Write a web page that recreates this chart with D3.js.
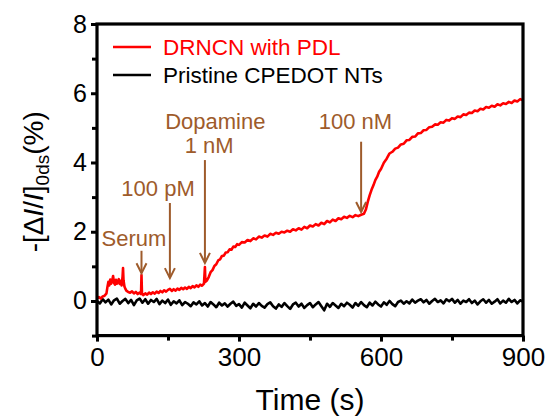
<!DOCTYPE html>
<html>
<head>
<meta charset="utf-8">
<script src="https://cdn.jsdelivr.net/npm/d3@7"></script>
<style>
  html, body { margin: 0; padding: 0; background: #fff; }
  svg { display: block; font-family: "Liberation Sans", Arial, sans-serif; }
</style>
</head>
<body>
<svg id="chart" width="549" height="416"></svg>
<script>
// ---------------- data ----------------
const xTicks = [0, 300, 600, 900];
const xMinorTicks = [150, 450, 750];
const yTicks = [0, 2, 4, 6, 8];
const yMinorTicks = [-1, 1, 3, 5, 7];

const seriesNames = ["DRNCN with PDL", "Pristine CPEDOT NTs"];

// DRNCN with PDL (red) : time (s) and response (%)
const redTime = [0,4,8,12,16,20,22,24,26,28,30,32,34,36,38,40,42,44,46,48,50,52,54,55,56,58,60,62,66,70,74,78,82,86,90,93,94,95,98,102,106,110,114,118,122,126,130,134,138,142,146,150,154,158,162,166,170,174,178,182,186,190,194,198,202,206,210,214,218,222,226,228,229,232,236,240,244,248,252,256,260,264,268,272,276,280,284,288,292,296,300,306,312,318,324,330,336,342,348,354,360,366,372,378,384,390,396,402,408,414,420,426,432,438,444,450,456,462,468,474,480,486,492,498,504,510,516,522,528,534,540,546,552,558,564,568,572,576,580,584,588,592,596,600,606,612,618,624,630,636,642,648,654,660,666,672,678,684,690,696,702,708,714,720,726,732,738,744,750,756,762,768,774,780,786,792,798,804,810,816,822,828,834,840,846,852,858,864,870,876,882,888,894,900];
const redValue = [0.08,0.11,0.07,0.13,0.15,0.22,0.40,0.55,0.45,0.62,0.50,0.58,0.72,0.52,0.47,0.61,0.50,0.55,0.63,0.49,0.58,0.45,0.70,0.95,0.60,0.42,0.35,0.30,0.26,0.24,0.28,0.22,0.26,0.20,0.24,0.20,0.75,0.22,0.17,0.22,0.18,0.24,0.20,0.25,0.21,0.27,0.23,0.29,0.25,0.31,0.27,0.32,0.35,0.29,0.34,0.30,0.36,0.32,0.38,0.34,0.39,0.35,0.41,0.37,0.43,0.39,0.45,0.41,0.47,0.44,0.50,0.98,0.55,0.59,0.69,0.83,0.89,1.01,1.06,1.17,1.20,1.30,1.31,1.40,1.41,1.49,1.48,1.57,1.56,1.64,1.62,1.70,1.69,1.76,1.73,1.81,1.78,1.86,1.83,1.89,1.86,1.94,1.91,1.97,1.94,2.00,1.98,2.03,2.00,2.07,2.04,2.10,2.06,2.14,2.10,2.18,2.15,2.22,2.18,2.26,2.22,2.31,2.27,2.35,2.31,2.39,2.36,2.43,2.40,2.46,2.42,2.48,2.45,2.49,2.52,2.64,2.86,3.05,3.21,3.34,3.49,3.59,3.73,3.81,3.99,4.11,4.26,4.31,4.40,4.43,4.52,4.54,4.64,4.65,4.74,4.75,4.84,4.85,4.93,4.94,5.02,5.03,5.10,5.09,5.16,5.15,5.23,5.21,5.28,5.26,5.33,5.31,5.39,5.37,5.44,5.43,5.50,5.48,5.55,5.53,5.60,5.58,5.64,5.61,5.68,5.65,5.71,5.69,5.75,5.72,5.79,5.76,5.83,5.80,5.87];

// Pristine CPEDOT NTs (black): sampled every 6 s from 0 to 900 s
const blackTime = d3.range(0, 901, 6);
const blackValue = [0.00,-0.07,0.05,-0.04,0.04,-0.10,0.02,0.07,-0.08,0.00,0.06,-0.06,0.03,-0.12,0.02,0.07,-0.05,0.05,-0.08,0.03,-0.03,0.06,-0.09,0.01,-0.06,0.04,-0.11,-0.01,-0.07,0.02,-0.12,-0.03,-0.08,-0.15,-0.04,-0.10,-0.01,-0.13,-0.06,-0.16,-0.03,-0.10,-0.18,-0.05,-0.13,-0.07,-0.16,-0.08,-0.02,-0.14,-0.09,-0.19,-0.05,-0.13,-0.21,-0.08,-0.16,-0.06,-0.14,-0.19,-0.09,-0.04,-0.15,-0.22,-0.10,-0.17,-0.06,-0.15,-0.23,-0.10,-0.05,-0.16,-0.08,-0.20,-0.12,-0.06,-0.18,-0.10,-0.03,-0.15,-0.27,-0.08,-0.17,-0.06,-0.13,-0.20,-0.08,-0.15,-0.05,-0.11,-0.19,-0.06,-0.14,-0.03,-0.12,-0.18,-0.05,-0.13,-0.02,-0.10,-0.16,-0.04,-0.11,0.00,-0.09,-0.15,-0.03,0.01,-0.08,-0.01,-0.07,0.04,-0.05,0.01,0.05,-0.04,0.03,-0.08,0.00,0.06,-0.03,0.02,-0.07,0.05,-0.01,0.06,-0.05,0.03,-0.08,0.01,-0.03,0.05,-0.06,0.01,-0.10,-0.01,0.05,-0.05,0.03,-0.08,-0.02,0.05,-0.07,0.01,-0.05,0.06,-0.03,0.03,-0.07,0.02,-0.02];

// annotations: label lines, arrow time, arrow start/end (data units), label anchor (data units)
const annotations = [
  { lines: ["Serum"], t: 94, yFrom: 1.45, yTo: 0.80, labelT: 78, labelY: [1.59] },
  { lines: ["100 pM"], t: 154, yFrom: 2.83, yTo: 0.66, labelT: 129, labelY: [3.03] },
  { lines: ["Dopamine", "1 nM"], t: 228, yFrom: 4.07, yTo: 1.10, labelT: [250, 237], labelY: [4.97, 4.28] },
  { lines: ["100 nM"], t: 558, yFrom: 4.60, yTo: 2.57, labelT: 546, labelY: [4.97] }
];

// ---------------- chart ----------------
const svg = d3.select("#chart");
const L = 97, R = 523, T = 24, B = 335.6;
const x = d3.scaleLinear().domain([0, 900]).range([L, R]);
const y = d3.scaleLinear().domain([-1, 8]).range([B, T]);

const brown = "#9E5B2B";

// lines
const line = d3.line().x(d => x(d[0])).y(d => y(d[1]));
const blackData = blackTime.map((t, i) => [t, blackValue[i]]);
const redData = redTime.map((t, i) => [t, redValue[i]]);

svg.append("path").datum(blackData).attr("d", line)
  .attr("fill", "none").attr("stroke", "#000").attr("stroke-width", 2.6).attr("stroke-linejoin", "round");
svg.append("path").datum(redData).attr("d", line)
  .attr("fill", "none").attr("stroke", "#ff0000").attr("stroke-width", 2.6).attr("stroke-linejoin", "round");

// axes
const fmt = d3.format("d");
const gx = svg.append("g").attr("transform", `translate(0,${B})`)
  .call(d3.axisBottom(x).tickValues(xTicks).tickFormat(fmt).tickSize(6).tickPadding(6));
const gxm = svg.append("g").attr("transform", `translate(0,${B})`)
  .call(d3.axisBottom(x).tickValues(xMinorTicks).tickFormat("").tickSize(5));
const gy = svg.append("g").attr("transform", `translate(${L},0)`)
  .call(d3.axisLeft(y).tickValues(yTicks).tickFormat(fmt).tickSize(6).tickPadding(4));
const gym = svg.append("g").attr("transform", `translate(${L},0)`)
  .call(d3.axisLeft(y).tickValues(yMinorTicks).tickFormat("").tickSize(5));
[gx, gxm, gy, gym].forEach(g => {
  g.select(".domain").remove();
  g.selectAll(".tick line").attr("stroke", "#000").attr("stroke-width", 3);
});
gx.selectAll(".tick text").attr("font-size", 26).attr("fill", "#000")
  .attr("font-family", "Liberation Sans, Arial, sans-serif");
gy.selectAll(".tick text").attr("font-size", 25).attr("fill", "#000")
  .attr("font-family", "Liberation Sans, Arial, sans-serif");

// frame
svg.append("rect").attr("x", L).attr("y", T).attr("width", R - L).attr("height", B - T)
  .attr("fill", "none").attr("stroke", "#000").attr("stroke-width", 3.2);

// axis titles
svg.append("text").attr("x", (L + R) / 2).attr("y", 410).attr("text-anchor", "middle")
  .attr("font-size", 30).attr("fill", "#000").text("Time (s)");

const yl = svg.append("text").attr("transform", `translate(43,${(T + B) / 2 + 2}) rotate(-90)`)
  .attr("text-anchor", "middle").attr("font-size", 28).attr("fill", "#000");
yl.append("tspan").text("-[Δ");
yl.append("tspan").attr("font-style", "italic").text("I");
yl.append("tspan").text("/");
yl.append("tspan").attr("font-style", "italic").text("I");
yl.append("tspan").text("]");
yl.append("tspan").attr("font-size", 19).attr("dy", 6).text("0ds");
yl.append("tspan").attr("dy", -6).text("(%)");

// legend
const legendColors = ["#ff0000", "#000"];
const legendY = [47, 75];
seriesNames.forEach((name, i) => {
  svg.append("line").attr("x1", 113).attr("x2", 151).attr("y1", legendY[i]).attr("y2", legendY[i])
    .attr("stroke", legendColors[i]).attr("stroke-width", 2.6);
  svg.append("text").attr("x", 163).attr("y", legendY[i] + 8).attr("font-size", 22.5)
    .attr("fill", legendColors[i]).text(name);
});

// annotations
annotations.forEach(a => {
  const ax = x(a.t), y1 = y(a.yFrom), y2 = y(a.yTo);
  svg.append("line").attr("x1", ax).attr("x2", ax).attr("y1", y1).attr("y2", y2)
    .attr("stroke", brown).attr("stroke-width", 2);
  svg.append("path").attr("d", `M${ax - 5},${y2 - 10} L${ax},${y2} L${ax + 5},${y2 - 10}`)
    .attr("fill", "none").attr("stroke", brown).attr("stroke-width", 2);
  a.lines.forEach((ln, i) => {
    const lt = Array.isArray(a.labelT) ? a.labelT[i] : a.labelT;
    svg.append("text").attr("x", x(lt)).attr("y", y(a.labelY[i])).attr("text-anchor", "middle")
      .attr("font-size", 22).attr("fill", brown).text(ln);
  });
});
</script>
</body>
</html>
